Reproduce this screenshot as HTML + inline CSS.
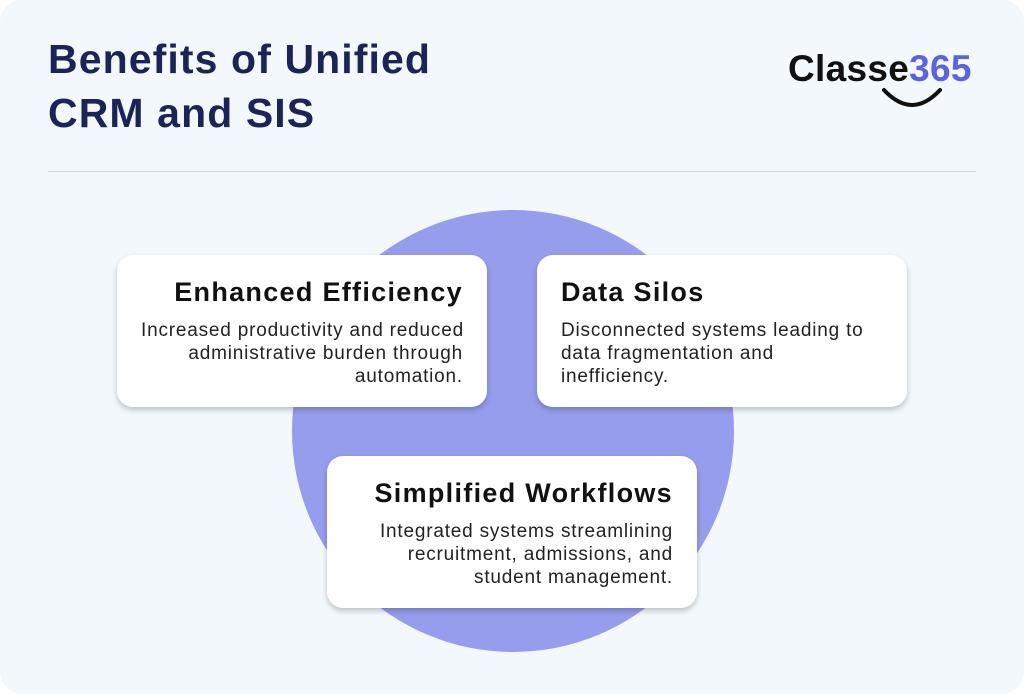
<!DOCTYPE html>
<html><head><style>
body{margin:0;width:1024px;height:694px;background:#fff;font-family:"Liberation Sans",sans-serif;overflow:hidden}
.bg{position:absolute;left:0;top:0;width:1024px;height:694px;background:#f2f8fc;border-radius:22px}
h1{position:absolute;left:48px;top:32px;margin:0;font-size:41px;line-height:54px;color:#1c2457;font-weight:bold;letter-spacing:1.1px}
.rule{position:absolute;left:48px;top:171px;width:928px;height:1px;background:#d4d8dc}
.circle{position:absolute;left:292px;top:210px;width:442px;height:442px;border-radius:50%;background:#969ded}
.card{position:absolute;width:370px;height:152px;background:#fff;border-radius:16px;box-shadow:0 3px 6px rgba(0,0,0,0.22);box-sizing:border-box;padding:20px 24px}
.card h2{margin:0;font-size:27px;font-weight:bold;color:#111;line-height:34px;letter-spacing:1.3px;white-space:nowrap}
.card p{margin:10px 0 0;font-size:19px;line-height:23px;color:#222;letter-spacing:0.8px;white-space:nowrap}
.r{text-align:right}
.logo{position:absolute;left:788px;top:48px;font-size:37px;font-weight:bold;color:#111;letter-spacing:0.3px}
.logo span{color:#5b63e0}
</style></head><body>
<div class="bg"></div>
<h1>Benefits of Unified<br>CRM and SIS</h1>
<div class="logo">Classe<span>365</span></div>
<svg style="position:absolute;left:872px;top:86px" width="80" height="30"><path d="M12 4 Q40 34 68 4" fill="none" stroke="#111" stroke-width="4" stroke-linecap="round"/></svg>
<div class="rule"></div>
<div class="circle"></div>
<div class="card r" style="left:117px;top:255px"><h2>Enhanced Efficiency</h2><p>Increased productivity and reduced<br>administrative burden through<br>automation.</p></div>
<div class="card" style="left:537px;top:255px"><h2>Data Silos</h2><p>Disconnected systems leading to<br>data fragmentation and<br>inefficiency.</p></div>
<div class="card r" style="left:327px;top:456px"><h2>Simplified Workflows</h2><p>Integrated systems streamlining<br>recruitment, admissions, and<br>student management.</p></div>
</body></html>
